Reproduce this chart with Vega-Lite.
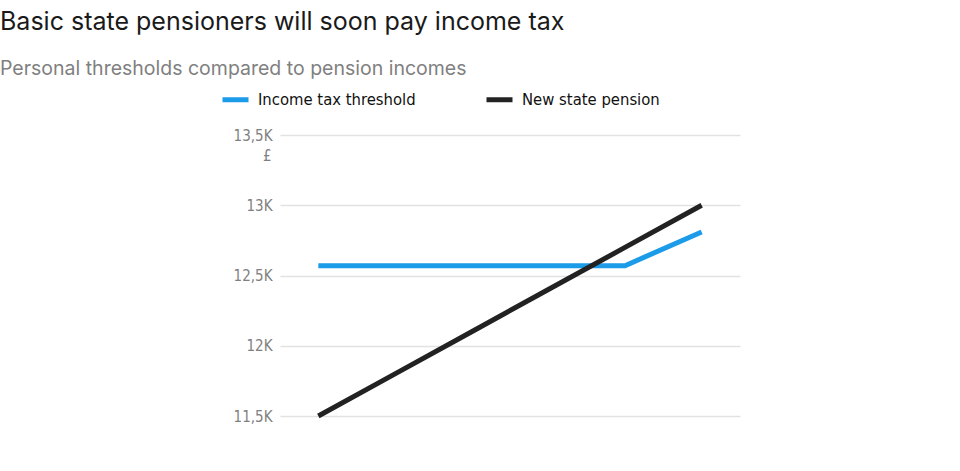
{
  "$schema": "https://vega.github.io/schema/vega-lite/v6.json",
  "width": 460,
  "height": 281,
  "autosize": "none",
  "padding": {"left": 280, "top": 135, "right": 220, "bottom": 55},
  "background": "white",
  "title": {
    "text": "Basic state pensioners will soon pay income tax",
    "subtitle": "Personal thresholds compared to pension incomes",
    "anchor": "start",
    "frame": "group",
    "dx": -280,
    "offset": 6,
    "font": "Inter",
    "fontSize": 25,
    "fontWeight": "normal",
    "color": "#1a1a1a",
    "subtitleFont": "Inter",
    "subtitleFontSize": 19.5,
    "subtitleColor": "#808080",
    "subtitlePadding": 25
  },
  "data": {
    "values": [
      {"year": "2023", "series": "Income tax threshold", "value": 12570},
      {"year": "2024", "series": "Income tax threshold", "value": 12570},
      {"year": "2025", "series": "Income tax threshold", "value": 12570},
      {"year": "2026", "series": "Income tax threshold", "value": 12570},
      {"year": "2027", "series": "Income tax threshold", "value": 12570},
      {"year": "2028", "series": "Income tax threshold", "value": 12810},
      {"year": "2023", "series": "New state pension", "value": 11500},
      {"year": "2024", "series": "New state pension", "value": 11800},
      {"year": "2025", "series": "New state pension", "value": 12100},
      {"year": "2026", "series": "New state pension", "value": 12400},
      {"year": "2027", "series": "New state pension", "value": 12700},
      {"year": "2028", "series": "New state pension", "value": 13000}
    ]
  },
  "mark": {"type": "line", "strokeWidth": 5},
  "encoding": {
    "x": {"field": "year", "type": "ordinal", "scale": {"type": "point", "padding": 0.5}, "axis": null},
    "y": {
      "field": "value",
      "type": "quantitative",
      "scale": {"domain": [11500, 13500], "zero": false, "nice": false},
      "axis": {
        "values": [11500, 12000, 12500, 13000, 13500],
        "labelExpr": "replace(format(datum.value / 1000, '.1~f'), '.', ',') + 'K'",
        "domain": false,
        "ticks": false,
        "grid": true,
        "gridColor": "#e2e2e2",
        "gridWidth": 1.5,
        "labelColor": "#808080",
        "labelFont": "DejaVu Sans Condensed",
        "labelFontSize": 15,
        "labelPadding": 8,
        "title": "£",
        "titleAngle": 0,
        "titleAlign": "right",
        "titleBaseline": "middle",
        "titleX": -9,
        "titleY": 20,
        "titleFont": "DejaVu Sans Condensed",
        "titleFontSize": 15,
        "titleFontWeight": "normal",
        "titleColor": "#808080"
      }
    },
    "color": {
      "field": "series",
      "type": "nominal",
      "scale": {"domain": ["Income tax threshold", "New state pension"], "range": ["#1c9be8", "#222222"]},
      "legend": {
        "orient": "none",
        "legendX": -60,
        "legendY": -51,
        "direction": "horizontal",
        "title": null,
        "symbolType": "stroke",
        "symbolStrokeWidth": 5,
        "symbolSize": 676,
        "labelFont": "DejaVu Sans Condensed",
        "labelFontSize": 16.5,
        "labelLimit": 400,
        "labelColor": "#111111",
        "labelOffset": 7,
        "columnPadding": 60
      }
    }
  },
  "config": {"view": {"stroke": null}}
}
